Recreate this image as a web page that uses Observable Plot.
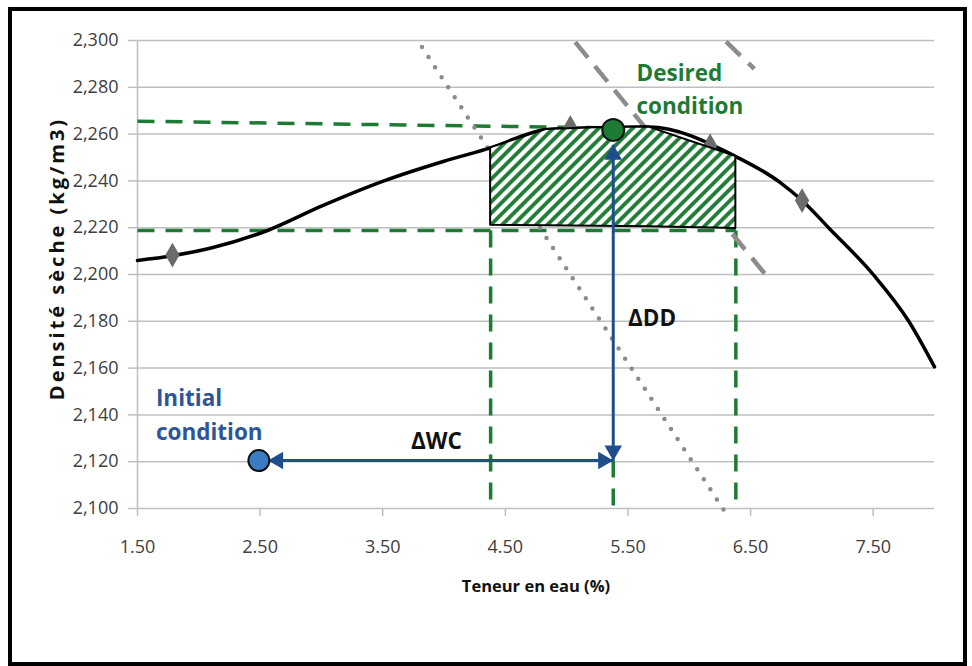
<!DOCTYPE html>
<html><head><meta charset="utf-8">
<script src="https://cdn.jsdelivr.net/npm/d3@7"></script>
<script src="https://cdn.jsdelivr.net/npm/@observablehq/plot@0.6"></script>
<style>
html,body{margin:0;padding:0;background:#fff;}
#wrap{position:relative;width:972px;height:666px;overflow:hidden;background:#fff;}
#wrap svg{position:absolute;left:0;top:0;}
#frame{position:absolute;left:8px;top:7px;width:951px;height:651px;border:4px solid #000;pointer-events:none;box-sizing:content-box;}
</style></head>
<body><div id="wrap"><div id="frame"></div></div>
<script>
// ---- data ----
const xTicks = [1.5, 2.5, 3.5, 4.5, 5.5, 6.5, 7.5];
const yTicks = [2.10, 2.12, 2.14, 2.16, 2.18, 2.20, 2.22, 2.24, 2.26, 2.28, 2.30];
const xTitle = "Teneur en eau (%)";
const yTitle = "Densité sèche (kg/m3)";

// compaction curve
const curveX = [1.5, 1.785, 2.1, 2.56, 3.0, 3.51, 4.0, 4.38, 4.84, 5.25, 5.67, 6.38, 6.74, 6.92, 7.14, 7.50, 7.79, 8.0];
const curveY = [2.2060, 2.2080, 2.2113, 2.2188, 2.2292, 2.2400, 2.2484, 2.2541, 2.2620, 2.2627, 2.2630, 2.2504, 2.2394, 2.2316, 2.2198, 2.2000, 2.1800, 2.1605];
// measured points (diamonds)
const pointX = [1.785, 5.03, 6.17, 6.92];
const pointY = [2.2083, 2.2628, 2.2550, 2.2316];
// acceptable zone (hatched)
const zoneX = [4.38, 4.84, 5.25, 5.67, 6.38];
const zoneTop = [2.2541, 2.2620, 2.2627, 2.2630, 2.2504];
const zoneBottom = [2.2210, 2.2208, 2.2206, 2.2204, 2.2197];
// green dashed guides
const guideX1 = [1.5, 1.5, 4.38, 5.38, 6.38];
const guideY1 = [2.2655, 2.2188, 2.2188, 2.1205, 2.2188];
const guideX2 = [5.30, 6.38, 4.38, 5.38, 6.38];
const guideY2 = [2.2627, 2.2188, 2.1, 2.1, 2.1];
// grey dotted line
const dotX = [3.82, 6.28];
const dotY = [2.2972, 2.0995];
// grey dashed lines
const dashX1 = [5.07, 6.30];
const dashY1 = [2.2993, 2.2995];
const dashX2 = [6.64, 6.53];
const dashY2 = [2.1988, 2.2879];
// conditions
const initialX = [2.49], initialY = [2.1205];
const desiredX = [5.38], desiredY = [2.2618];
// arrows (tips)
const arrowX1 = [2.565, 5.38];
const arrowY1 = [2.1205, 2.1205];
const arrowX2 = [5.38, 5.38];
const arrowY2 = [2.1205, 2.2555];
// annotations
const desiredText = ["Desired", "condition"];
const desiredTextX = [5.57, 5.57];
const desiredTextY = [2.2829, 2.2688];
const initialText = ["Initial", "condition"];
const initialTextX = [1.65, 1.65];
const initialTextY = [2.1440, 2.1291];
const deltaText = ["ΔWC", "ΔDD"];
const deltaTextX = [3.73, 5.50];
const deltaTextY = [2.1256, 2.1782];

// ---- tables built from the arrays ----
const curve = curveX.map((x, i) => ({x, y: curveY[i]}));
const points = pointX.map((x, i) => ({x, y: pointY[i]}));
const zone = zoneX.map((x, i) => ({x, y1: zoneBottom[i], y2: zoneTop[i]}));
const guides = guideX1.map((x1, i) => ({x1, y1: guideY1[i], x2: guideX2[i], y2: guideY2[i]}));
const dotted = [{x1: dotX[0], y1: dotY[0], x2: dotX[1], y2: dotY[1]}];
const dashed = dashX1.map((x1, i) => ({x1, y1: dashY1[i], x2: dashX2[i], y2: dashY2[i]}));
const arrows = arrowX1.map((x1, i) => ({x1, y1: arrowY1[i], x2: arrowX2[i], y2: arrowY2[i]}));
const initial = initialX.map((x, i) => ({x, y: initialY[i]}));
const desired = desiredX.map((x, i) => ({x, y: desiredY[i]}));
const lab = (t, X, Y) => t.map((text, i) => ({text, x: X[i], y: Y[i]}));

const fmtY = d => d3.format(".3f")(d).replace(".", ",");
const fmtX = d3.format(".2f");
const green = "#1e7b34", blueText = "#2e5597", navy = "#1f4e8c", grid = "#bfbfbf";
const font = "'Open Sans', 'Noto Sans', sans-serif";

const head = (x, y, rotate, dx, dy) =>
  Plot.dot([{x, y}], {x: "x", y: "y", symbol: "triangle", r: 6.5, fill: navy, stroke: "none", rotate, dx, dy});

const chart = Plot.plot({
  width: 972, height: 666,
  marginTop: 40, marginBottom: 158, marginLeft: 137, marginRight: 38,
  x: {domain: [1.5, 8]},
  y: {domain: [2.1, 2.3]},
  style: {fontFamily: font, background: "transparent"},
  marks: [
    Plot.gridY(yTicks, {stroke: grid, strokeOpacity: 1, strokeWidth: 1.5}),
    Plot.ruleX([1.5], {stroke: grid, strokeWidth: 1.5}),
    Plot.axisY(yTicks, {tickSize: 9, tickPadding: 10, tickFormat: fmtY, stroke: grid, strokeWidth: 1.5, color: "#404040", fill: "#404040", fontSize: 18, fontFamily: font, label: null}),
    Plot.axisX(xTicks, {tickSize: 8, tickPadding: 24, tickFormat: fmtX, stroke: grid, strokeWidth: 1.5, color: "#404040", fill: "#404040", fontSize: 18, fontFamily: font, label: null}),
    Plot.text([xTitle], {text: d => d, frameAnchor: "bottom", dy: 83, lineAnchor: "bottom", fontSize: 16.5, fontWeight: 700, fill: "#111"}),
    Plot.text([yTitle], {text: d => d, frameAnchor: "left", textAnchor: "middle", lineAnchor: "middle", rotate: -90, dx: -80, dy: -16, fontSize: 20, fontWeight: 700, fill: "#111"}),
    // guides
    Plot.link(guides, {x1: "x1", y1: "y1", x2: "x2", y2: "y2", stroke: green, strokeWidth: 3.5, strokeDasharray: "17,11"}),
    Plot.link(dotted, {x1: "x1", y1: "y1", x2: "x2", y2: "y2", stroke: "#8c8c8c", strokeWidth: 4.5, strokeDasharray: "0,12", strokeLinecap: "round"}),
    Plot.link(dashed, {x1: "x1", y1: "y1", x2: "x2", y2: "y2", stroke: "#8c8c8c", strokeWidth: 4.5, strokeDasharray: "20,11"}),
    // curve and points
    Plot.line(curve, {x: "x", y: "y", stroke: "#000", strokeWidth: 3.5, curve: "monotone-x"}),
    Plot.dot(points, {x: "x", y: "y", symbol: "diamond", r: 7.5, fill: "#6b6b6b", stroke: "none"}),
    // zone
    Plot.areaY(zone, {x: "x", y1: "y1", y2: "y2", fill: "url(#hatch)", stroke: "#000", strokeWidth: 2}),
    // arrows
    Plot.link(arrows, {x1: "x1", y1: "y1", x2: "x2", y2: "y2", stroke: navy, strokeWidth: 3}),
    head(arrowX1[0], arrowY1[0], -90, 10, 0),
    head(arrowX2[0], arrowY2[0], 90, -10, 0),
    head(arrowX1[1], arrowY1[1], 180, 0, -10),
    head(arrowX2[1], arrowY2[1], 0, 0, 10),
    // conditions
    Plot.dot(initial, {x: "x", y: "y", r: 10.5, fill: "#3a7cc4", stroke: "#111", strokeWidth: 2}),
    Plot.dot(desired, {x: "x", y: "y", r: 11, fill: "#1e7b34", stroke: "#111", strokeWidth: 2}),
    // annotations
    Plot.text(lab(desiredText, desiredTextX, desiredTextY), {x: "x", y: "y", text: "text", textAnchor: "start", lineAnchor: "bottom", fontSize: 22.5, fontWeight: 700, fill: green}),
    Plot.text(lab(initialText, initialTextX, initialTextY), {x: "x", y: "y", text: "text", textAnchor: "start", lineAnchor: "bottom", fontSize: 22.5, fontWeight: 700, fill: blueText}),
    Plot.text(lab(deltaText, deltaTextX, deltaTextY), {x: "x", y: "y", text: "text", textAnchor: "start", lineAnchor: "bottom", fontSize: 22.5, fontWeight: 700, fill: "#111"})
  ]
});

// hatch pattern
const defs = d3.select(chart).insert("defs", ":first-child");
const pat = defs.append("pattern").attr("id", "hatch").attr("patternUnits", "userSpaceOnUse")
  .attr("width", 8).attr("height", 8).attr("patternTransform", "rotate(45)");
pat.append("rect").attr("width", 8).attr("height", 8).attr("fill", "#fff");
pat.append("line").attr("x1", 2).attr("y1", 0).attr("x2", 2).attr("y2", 8)
  .attr("stroke", green).attr("stroke-width", 3.8);

d3.select(chart).selectAll("text").filter(function() { return this.textContent === yTitle; })
  .style("letter-spacing", "3px");

document.getElementById("wrap").prepend(chart);
</script>
</body></html>
